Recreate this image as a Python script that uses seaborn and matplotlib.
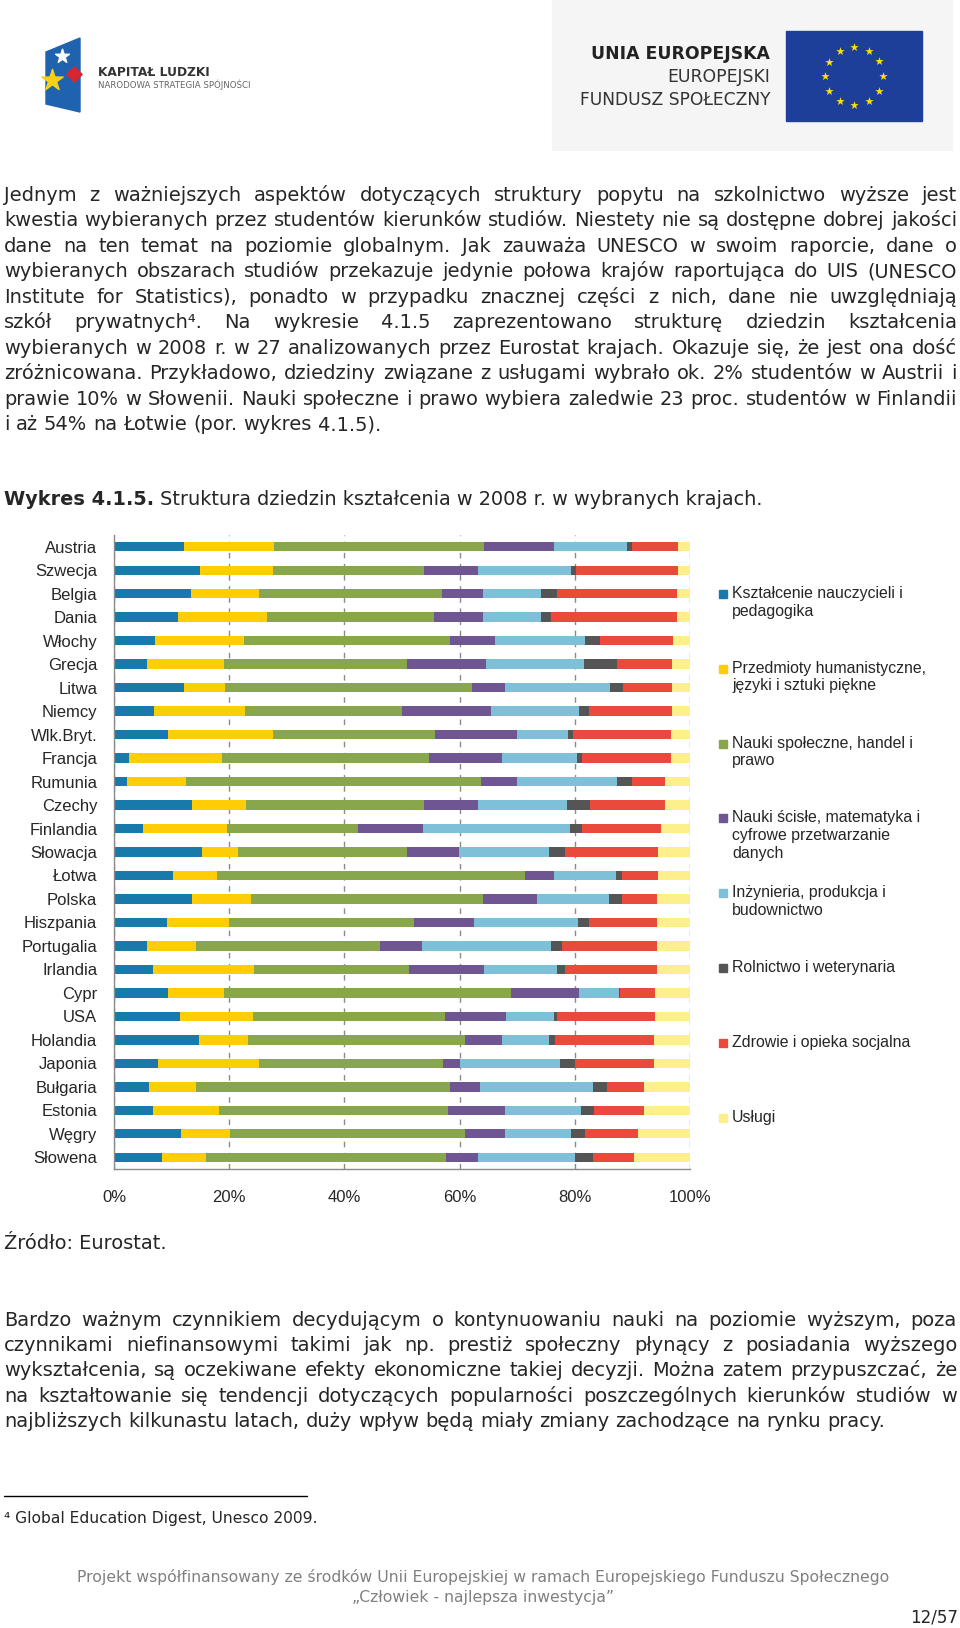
import textwrap
import numpy as np
import pandas as pd
import matplotlib
matplotlib.use("Agg")
import matplotlib.pyplot as plt
import seaborn as sns
from matplotlib.patches import Rectangle, Polygon

# --- dane (% studentów) ---
kraje = ["Austria", "Szwecja", "Belgia", "Dania", "Włochy", "Grecja", "Litwa", "Niemcy",
         "Wlk.Bryt.", "Francja", "Rumunia", "Czechy", "Finlandia", "Słowacja", "Łotwa",
         "Polska", "Hiszpania", "Portugalia", "Irlandia", "Cypr", "USA", "Holandia",
         "Japonia", "Bułgaria", "Estonia", "Węgry", "Słowena"]

ksztalcenie = [12.2, 14.9, 13.4, 11.1, 7.2, 5.7, 12.2, 7.0, 9.4, 2.6, 2.3, 13.6, 5.0, 15.2,
               10.2, 13.6, 9.2, 5.7, 6.7, 9.4, 11.4, 14.7, 7.7, 6.1, 6.7, 11.6, 8.4]
humanistyczne = [15.6, 12.7, 11.7, 15.4, 15.4, 13.4, 7.1, 15.7, 18.2, 16.2, 10.2, 9.3, 14.6, 6.3,
                 7.6, 10.1, 10.8, 8.5, 17.6, 9.7, 12.8, 8.5, 17.4, 8.1, 11.5, 8.6, 7.6]
spoleczne = [36.4, 26.3, 31.8, 29.0, 35.7, 31.7, 42.9, 27.3, 28.2, 35.9, 51.2, 31.0, 22.8, 29.3,
             53.6, 40.3, 32.0, 31.9, 26.9, 49.9, 33.2, 37.8, 32.0, 44.1, 39.8, 40.8, 41.7]
scisle = [12.2, 9.3, 7.1, 8.5, 7.9, 13.8, 5.6, 15.4, 14.2, 12.6, 6.3, 9.3, 11.2, 9.1,
          5.0, 9.4, 10.5, 7.3, 13.1, 11.8, 10.7, 6.3, 3.0, 5.2, 9.8, 6.8, 5.5]
inzynieria = [12.6, 16.1, 10.2, 10.2, 15.6, 17.0, 18.3, 15.4, 8.9, 13.0, 17.4, 15.4, 25.5, 15.6,
              10.8, 12.5, 18.0, 22.5, 12.6, 6.8, 8.3, 8.3, 17.4, 19.7, 13.2, 11.5, 16.8]
rolnictwo = [1.0, 0.9, 2.7, 1.6, 2.6, 5.7, 2.3, 1.6, 0.8, 1.0, 2.6, 4.1, 2.2, 2.8,
             1.0, 2.3, 1.9, 1.9, 1.4, 0.3, 0.5, 1.0, 2.5, 2.4, 2.4, 2.4, 3.2]
zdrowie = [8.0, 17.8, 20.9, 22.0, 12.7, 9.6, 8.5, 14.5, 17.0, 15.4, 5.6, 12.9, 13.7, 16.1,
           6.2, 6.0, 11.8, 16.4, 15.9, 6.0, 17.0, 17.1, 13.7, 6.4, 8.6, 9.2, 7.1]
uslugi = [2.0, 2.0, 2.2, 2.2, 2.9, 3.1, 3.1, 3.1, 3.3, 3.3, 4.4, 4.4, 5.0, 5.6,
          5.6, 5.8, 5.8, 5.8, 5.8, 6.1, 6.1, 6.3, 6.3, 8.0, 8.0, 9.1, 9.7]

kategorie = ["Kształcenie nauczycieli i pedagogika",
             "Przedmioty humanistyczne, języki i sztuki piękne",
             "Nauki społeczne, handel i prawo",
             "Nauki ścisłe, matematyka i cyfrowe przetwarzanie danych",
             "Inżynieria, produkcja i budownictwo",
             "Rolnictwo i weterynaria",
             "Zdrowie i opieka socjalna",
             "Usługi"]
kolory = ["#177aaa", "#fdce05", "#88a64c", "#6f5592", "#7ec0d8", "#555555", "#e94a3b", "#fdf08c"]
osie_x = [0, 20, 40, 60, 80, 100]

akapit_1 = [
    "Jednym z ważniejszych aspektów dotyczących struktury popytu na szkolnictwo wyższe jest",
    "kwestia wybieranych przez studentów kierunków studiów. Niestety nie są dostępne dobrej jakości",
    "dane na ten temat na poziomie globalnym. Jak zauważa UNESCO w swoim raporcie, dane o",
    "wybieranych obszarach studiów przekazuje jedynie połowa krajów raportująca do UIS (UNESCO",
    "Institute for Statistics), ponadto w przypadku znacznej części z nich, dane nie uwzględniają",
    "szkół prywatnych\u2074. Na wykresie 4.1.5 zaprezentowano strukturę dziedzin kształcenia",
    "wybieranych w 2008 r. w 27 analizowanych przez Eurostat krajach. Okazuje się, że jest ona dość",
    "zróżnicowana. Przykładowo, dziedziny związane z usługami wybrało ok. 2% studentów w Austrii i",
    "prawie 10% w Słowenii. Nauki społeczne i prawo wybiera zaledwie 23 proc. studentów w Finlandii",
    "i aż 54% na Łotwie (por. wykres 4.1.5).",
]
akapit_2 = [
    "Bardzo ważnym czynnikiem decydującym o kontynuowaniu nauki na poziomie wyższym, poza",
    "czynnikami niefinansowymi takimi jak np. prestiż społeczny płynący z posiadania wyższego",
    "wykształcenia, są oczekiwane efekty ekonomiczne takiej decyzji. Można zatem przypuszczać, że",
    "na kształtowanie się tendencji dotyczących popularności poszczególnych kierunków studiów w",
    "najbliższych kilkunastu latach, duży wpływ będą miały zmiany zachodzące na rynku pracy.",
]

sns.set_style("white")
BODY = ["DejaVu Sans"]
WASKI = ["Liberation Sans Narrow", "DejaVu Sans"]
ARIAL = ["Liberation Sans", "DejaVu Sans"]
plt.rcParams["font.family"] = ARIAL

W, H = 960, 1628
fig = plt.figure(figsize=(W / 100, H / 100), dpi=100)
bg = fig.add_axes([0, 0, 1, 1], zorder=0)
bg.set_xlim(0, W)
bg.set_ylim(H, 0)
bg.axis("off")
renderer = fig.canvas.get_renderer()


def szer(t):
    return t.get_window_extent(renderer).width


def dopasuj(t, cel):
    # skaluje rozmiar czcionki tak, by tekst miał zadaną szerokość w pikselach
    t.set_fontsize(t.get_fontsize() * cel / szer(t))
    return t


# --- nagłówek: logotypy ---
bg.add_patch(Polygon([(46, 52), (80, 38), (80, 112), (46, 104)], closed=True, color="#1f62ae"))
bg.scatter([62], [56], marker="*", s=110, color="white", zorder=3)
bg.scatter([74], [74], marker="D", s=60, color="#d6262f", zorder=3)
bg.scatter([52], [80], marker="*", s=260, color="#f7d117", zorder=3)
dopasuj(bg.text(98, 76, "KAPITAŁ LUDZKI", family=WASKI, weight="bold", fontsize=11,
                color="#333333", va="baseline"), 112)
dopasuj(bg.text(98, 88, "NARODOWA STRATEGIA SPÓJNOŚCI", family=WASKI, fontsize=5,
                color="#666666", va="baseline"), 152)

bg.add_patch(Rectangle((552, 0), 400, 150, color="#f5f5f5", zorder=0))
dopasuj(bg.text(770, 59, "UNIA EUROPEJSKA", family=WASKI, weight="bold", fontsize=12,
                color="#222222", ha="right", va="baseline"), 178)
dopasuj(bg.text(770, 82, "EUROPEJSKI", family=WASKI, fontsize=12,
                color="#333333", ha="right", va="baseline"), 102)
dopasuj(bg.text(770, 105, "FUNDUSZ SPOŁECZNY", family=WASKI, fontsize=12,
                color="#333333", ha="right", va="baseline"), 190)
bg.add_patch(Rectangle((786, 31), 136, 90, color="#1e3f99", zorder=1))
kat = np.linspace(0, 2 * np.pi, 13)[:-1]
bg.scatter(854 + 29 * np.cos(kat), 76 + 29 * np.sin(kat), marker="*", s=40,
           color="#ffe000", zorder=3, linewidths=0)

# --- tekst justowany ---
X0, X1 = 4, 957


def slowa_linii(tekst, y, rozmiar, justuj):
    slowa = tekst.split(" ")
    obiekty = [bg.text(X0, y, s, fontsize=rozmiar, family=BODY, va="baseline", ha="left")
               for s in slowa]
    w = [szer(o) for o in obiekty]
    if justuj and len(slowa) > 1:
        odstep = (X1 - X0 - sum(w)) / (len(slowa) - 1)
    else:
        a = bg.text(0, 0, "a a", fontsize=rozmiar, family=BODY)
        b = bg.text(0, 0, "aa", fontsize=rozmiar, family=BODY)
        odstep = szer(a) - szer(b)
        a.remove()
        b.remove()
    x = X0
    for o, wi in zip(obiekty, w):
        o.set_x(x)
        x += wi + odstep


def szer_naturalna(tekst, rozmiar):
    t = bg.text(0, 0, tekst, fontsize=rozmiar, family=BODY)
    w = szer(t)
    t.remove()
    return w


pelne = akapit_1[:-1] + akapit_2[:-1]
max_w = max(szer_naturalna(l, 13) for l in pelne)
ROZMIAR = 13 * (X1 - X0) / max_w * 0.995

for i, l in enumerate(akapit_1):
    slowa_linii(l, 201 + i * 25.45, ROZMIAR, i < len(akapit_1) - 1)
for i, l in enumerate(akapit_2):
    slowa_linii(l, 1326 + i * 25.2, ROZMIAR, i < len(akapit_2) - 1)

bg.text(X0, 1249, "Źródło: Eurostat.", fontsize=ROZMIAR, family=BODY, va="baseline")

# tytuł wykresu (pogrubiony numer + zwykły opis)
t1 = bg.text(X0, 505, "Wykres 4.1.5.", family=WASKI, weight="bold", fontsize=14, va="baseline")
t2 = bg.text(X0, 505, " Struktura dziedzin kształcenia w 2008 r. w wybranych krajach.",
             family=WASKI, fontsize=14, va="baseline")
skala = 761 / (szer(t1) + szer(t2))
t1.set_fontsize(14 * skala)
t2.set_fontsize(14 * skala)
t2.set_x(X0 + szer(t1))

# przypis i stopka
bg.plot([4, 307], [1496, 1496], color="black", lw=1)
dopasuj(bg.text(4, 1523, "\u2074 Global Education Digest, Unesco 2009.", family=WASKI,
                fontsize=11, va="baseline"), 314)
stopka = dopasuj(bg.text(483, 1582, "Projekt współfinansowany ze środków Unii Europejskiej "
                         "w ramach Europejskiego Funduszu Społecznego", family=WASKI,
                         fontsize=11, color="#808080", ha="center", va="baseline"), 813)
bg.text(483, 1602, "\u201eCzłowiek - najlepsza inwestycja\u201d", family=WASKI,
        fontsize=stopka.get_fontsize(), color="#808080", ha="center", va="baseline")
dopasuj(bg.text(958, 1622, "12/57", family=WASKI, fontsize=12, ha="right",
                va="baseline"), 48)

# --- wykres słupkowy skumulowany ---
df = pd.DataFrame({"kraj": kraje})
for nazwa, wart in zip(kategorie, [ksztalcenie, humanistyczne, spoleczne, scisle,
                                   inzynieria, rolnictwo, zdrowie, uslugi]):
    df[nazwa] = wart
skum = df[kategorie].cumsum(axis=1)
skum["kraj"] = kraje

ax = fig.add_axes([114 / W, 1 - 1169 / H, (690 - 114) / W, (1169 - 535) / H], zorder=2)
ax.set_facecolor("none")
# słupki skumulowane: od sumy całkowitej do pierwszej kategorii, każda warstwa na wierzchu
for nazwa, kol in reversed(list(zip(kategorie, kolory))):
    sns.barplot(data=skum, x=nazwa, y="kraj", order=kraje, orient="h", color=kol,
                saturation=1, width=0.4, errorbar=None, linewidth=0, ax=ax)

ax.set_xlim(0, 100)
ax.set_ylim(len(kraje) - 0.5, -0.5)
ax.set_xlabel("")
ax.set_ylabel("")
ax.set_xticks(osie_x)
ax.set_xticklabels([f"{v}%" for v in osie_x], fontsize=12, family=ARIAL)
ax.set_yticks(range(len(kraje)))
ax.set_yticklabels(kraje, fontsize=12, family=ARIAL)
ax.set_yticks(np.arange(-0.5, len(kraje), 1), minor=True)
szary = "#8a8a8a"
ax.tick_params(axis="y", which="major", length=0, pad=12)
ax.tick_params(axis="y", which="minor", length=4, color=szary, width=1, direction="out")
ax.tick_params(axis="x", which="major", length=4, color=szary, width=1, direction="out", pad=11)
ax.set_axisbelow(True)
ax.xaxis.grid(True, linestyle=(0, (4, 4)), color=szary, lw=1)
ax.yaxis.grid(False)
for s in ["top", "right"]:
    ax.spines[s].set_visible(False)
for s in ["left", "bottom"]:
    ax.spines[s].set_color(szary)
    ax.spines[s].set_linewidth(1)

# --- legenda ---
for i, (nazwa, kol) in enumerate(zip(kategorie, kolory)):
    y = 594 + i * 74.8
    bg.add_patch(Rectangle((719, y - 4), 8, 8, color=kol))
    bg.text(732, y - 8, textwrap.fill(nazwa, 26), fontsize=11.4, family=ARIAL,
            va="top", ha="left", linespacing=1.22)

fig.savefig("out.png", dpi=100)
